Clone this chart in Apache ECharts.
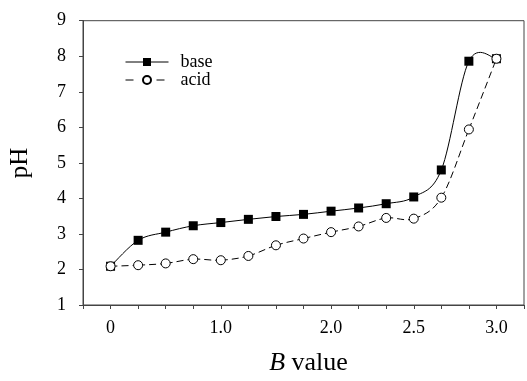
<!DOCTYPE html>
<html>
<head>
<meta charset="utf-8">
<script src="https://cdn.jsdelivr.net/npm/echarts@6/dist/echarts.min.js"></script>
<style>
html,body{margin:0;padding:0;background:#fff;}
#chart{width:527px;height:381px;}
</style>
</head>
<body>
<div id="chart"></div>
<script>
// Sample positions along the x axis (index of each measurement)
var xIndex = [0,1,2,3,4,5,6,7,8,9,10,11,12,13,14];
// pH values
var baseValues = [2.09,2.82,3.05,3.23,3.32,3.41,3.49,3.55,3.64,3.73,3.85,4.04,4.80,7.86,7.93];
var acidValues = [2.09,2.12,2.17,2.29,2.26,2.38,2.68,2.87,3.05,3.21,3.45,3.43,4.02,5.94,7.93];
// x tick labels and the sample index they sit at
var xTickLabels = ['0','1.0','2.0','2.5','3.0'];
var xTickPositions = [0,4,8,11,14];
var yTicks = [1,2,3,4,5,6,7,8,9];

var serif = '"Liberation Serif","Times New Roman",serif';
var axisColor = '#444';

function pairs(vals){ return xIndex.map(function(x,i){ return [x, vals[i]]; }); }

// Draws a Catmull-Rom spline segment from point i to i+1, positions from the axes.
function splineRenderer(vals, dash){
  return function(params, api){
    var i = params.dataIndex;
    var n = vals.length;
    if (i >= n-1) return null;
    function P(k){ k = Math.max(0, Math.min(n-1, k)); return api.coord([xIndex[k], vals[k]]); }
    var p0 = P(i-1), p1 = P(i), p2 = P(i+1), p3 = P(i+2);
    return {
      type:'bezierCurve',
      shape:{
        x1:p1[0], y1:p1[1], x2:p2[0], y2:p2[1],
        cpx1:p1[0]+(p2[0]-p0[0])/6, cpy1:p1[1]+(p2[1]-p0[1])/6,
        cpx2:p2[0]-(p3[0]-p1[0])/6, cpy2:p2[1]-(p3[1]-p1[1])/6
      },
      style:{stroke:'#000', lineWidth:1, fill:'none', lineDash:dash}
    };
  };
}

var chart = echarts.init(document.getElementById('chart'), null, {renderer:'canvas'});
chart.setOption({
  animation:false,
  backgroundColor:'#fff',
  grid:{left:78.5, top:20.7, bottom:67.7, right:-3, show:true, borderColor:axisColor, borderWidth:1, backgroundColor:'transparent'},
  legend:{
    left:120, top:48, orient:'vertical', itemWidth:43, itemHeight:10, itemGap:0,
    lineStyle:{width:1, color:'#000'},
    textStyle:{fontFamily:serif, fontSize:18, color:'#000', padding:[0,0,0,7]},
    data:[{name:'base'}, {name:'acid', lineStyle:{width:1, color:'#000', type:[8,23]}}]
  },
  xAxis:{
    type:'value', min:-1, max:15, interval:1,
    name:'{i|B} value', nameLocation:'middle', nameGap:45,
    nameTextStyle:{fontFamily:serif, fontSize:26, color:'#000', padding:[0,0,0,10],
      rich:{i:{fontFamily:serif, fontStyle:'italic', fontSize:26, color:'#000'}}},
    axisLine:{onZero:false, lineStyle:{color:axisColor, width:1}},
    axisTick:{show:true, inside:false, length:4, lineStyle:{color:axisColor}},
    splitLine:{show:false},
    axisLabel:{margin:14, fontFamily:serif, fontSize:18, color:'#000',
      formatter:function(v){
        var r = Math.round(v);
        var k = xTickPositions.indexOf(r);
        return (k>=0 && Math.abs(v-r)<1e-6) ? xTickLabels[k] : '';
      }}
  },
  yAxis:{
    type:'value', min:yTicks[0], max:yTicks[yTicks.length-1], interval:1,
    name:'pH', nameLocation:'middle', nameGap:50, nameRotate:90,
    nameTextStyle:{fontFamily:serif, fontSize:25, color:'#000'},
    axisLine:{show:true, onZero:false, lineStyle:{color:axisColor, width:1}},
    axisTick:{show:true, inside:false, length:4, lineStyle:{color:axisColor}},
    splitLine:{show:false},
    axisLabel:{margin:17, fontFamily:serif, fontSize:18, color:'#000'}
  },
  series:[
    {
      name:'baseCurve', type:'custom', data:pairs(baseValues),
      encode:{x:0, y:1}, renderItem:splineRenderer(baseValues, null), z:1, silent:true
    },
    {
      name:'acidCurve', type:'custom', data:pairs(acidValues),
      encode:{x:0, y:1}, renderItem:splineRenderer(acidValues, [7,4]), z:1, silent:true
    },
    {
      name:'base', type:'line', data:pairs(baseValues),
      symbol:'rect', symbolSize:9, showAllSymbol:true,
      lineStyle:{color:'#000', width:0},
      itemStyle:{color:'#000', borderColor:'#000', borderWidth:0},
      z:2
    },
    {
      name:'acid', type:'line', data:pairs(acidValues),
      symbol:'circle', symbolSize:9, showAllSymbol:true,
      lineStyle:{color:'#000', width:0, type:[7,4]},
      itemStyle:{color:'#fff', borderColor:'#000', borderWidth:1},
      z:3
    }
  ]
});
</script>
</body>
</html>
